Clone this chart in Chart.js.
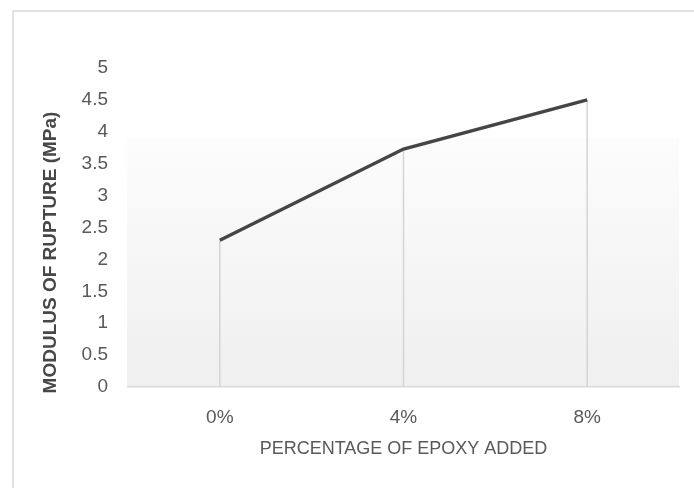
<!DOCTYPE html>
<html>
<head>
<meta charset="utf-8">
<script src="https://cdn.jsdelivr.net/npm/chart.js@4/dist/chart.umd.min.js"></script>
<style>
  html, body { margin: 0; padding: 0; background: #ffffff; }
  #wrap { width: 694px; height: 488px; }
</style>
</head>
<body>
<div id="wrap"><canvas id="c" width="694" height="488"></canvas></div>
<script>
// Modulus of rupture against epoxy content
const categories = ['0%', '4%', '8%'];
const modulusOfRupture = [2.3, 3.73, 4.5];
const yTicks = [0, 0.5, 1, 1.5, 2, 2.5, 3, 3.5, 4, 4.5, 5];
const xTitle = 'PERCENTAGE OF EPOXY ADDED';
const yTitle = 'MODULUS OF RUPTURE (MPa)';

const FONT = '"Liberation Sans", Arial, sans-serif';
const TEXT = '#595959';

// Outer frame of the chart and the shaded plot band
const frameAndBand = {
  id: 'frameAndBand',
  beforeDraw(chart) {
    const { ctx, chartArea: a } = chart;
    ctx.save();
    ctx.strokeStyle = '#d9d9d9';
    ctx.lineWidth = 1.5;
    ctx.beginPath();
    ctx.moveTo(13, 500);
    ctx.lineTo(13, 11);
    ctx.lineTo(700, 11);
    ctx.stroke();

    const top = a.top + 0.22 * (a.bottom - a.top);
    const g = ctx.createLinearGradient(0, top, 0, a.bottom);
    g.addColorStop(0, '#fcfcfc');
    g.addColorStop(1, '#efefef');
    ctx.fillStyle = g;
    ctx.fillRect(a.left - 1, top, a.right - a.left + 1, a.bottom - top);
    ctx.restore();
  }
};

// Vertical drop lines from each point down to the category axis
const dropLines = {
  id: 'dropLines',
  beforeDatasetsDraw(chart) {
    const { ctx } = chart;
    const meta = chart.getDatasetMeta(0);
    const base = chart.scales.y.getPixelForValue(0);
    ctx.save();
    ctx.strokeStyle = '#d4d4d4';
    ctx.lineWidth = 1.5;
    meta.data.forEach(pt => {
      ctx.beginPath();
      ctx.moveTo(pt.x, pt.y);
      ctx.lineTo(pt.x, base);
      ctx.stroke();
    });
    ctx.restore();
  }
};

// Value-axis title, centred on the full frame height rather than the plot
const valueAxisTitle = {
  id: 'valueAxisTitle',
  afterDraw(chart) {
    const { ctx } = chart;
    ctx.save();
    ctx.translate(51, (11 + chart.height + 6) / 2);
    ctx.rotate(-Math.PI / 2);
    ctx.font = 'bold 19px ' + FONT;
    ctx.fillStyle = '#474747';
    ctx.textAlign = 'center';
    ctx.textBaseline = 'middle';
    ctx.fillText(yTitle, 0, 0);
    ctx.restore();
  }
};

new Chart(document.getElementById('c'), {
  type: 'line',
  data: {
    labels: categories,
    datasets: [{
      data: modulusOfRupture,
      borderColor: '#454545',
      borderWidth: 3.5,
      pointRadius: 0,
      pointHoverRadius: 0,
      tension: 0,
      fill: false
    }]
  },
  options: {
    responsive: false,
    animation: false,
    events: [],
    layout: { padding: { top: 68, right: 15, bottom: 0, left: 0 } },
    plugins: { legend: { display: false }, tooltip: { enabled: false } },
    scales: {
      x: {
        offset: true,
        grid: { display: false, drawTicks: false },
        border: { display: true, color: '#d9d9d9', width: 1.5 },
        ticks: { color: TEXT, font: { family: FONT, size: 19 }, padding: 19, maxRotation: 0 },
        title: {
          display: true, text: xTitle, color: TEXT,
          font: { family: FONT, size: 18 }, padding: { top: 0, bottom: 28 }
        },
        afterFit(scale) { scale.height = 101; }
      },
      y: {
        min: 0, max: 5,
        grid: { display: false, drawTicks: false },
        border: { display: false },
        afterBuildTicks(scale) { scale.ticks = yTicks.map(v => ({ value: v })); },
        ticks: {
          color: TEXT, font: { family: FONT, size: 19 }, padding: 20,
          callback: v => String(v)
        },
        title: { display: false },
        afterFit(scale) { scale.width = 128; }
      }
    }
  },
  plugins: [frameAndBand, dropLines, valueAxisTitle]
});
</script>
</body>
</html>
